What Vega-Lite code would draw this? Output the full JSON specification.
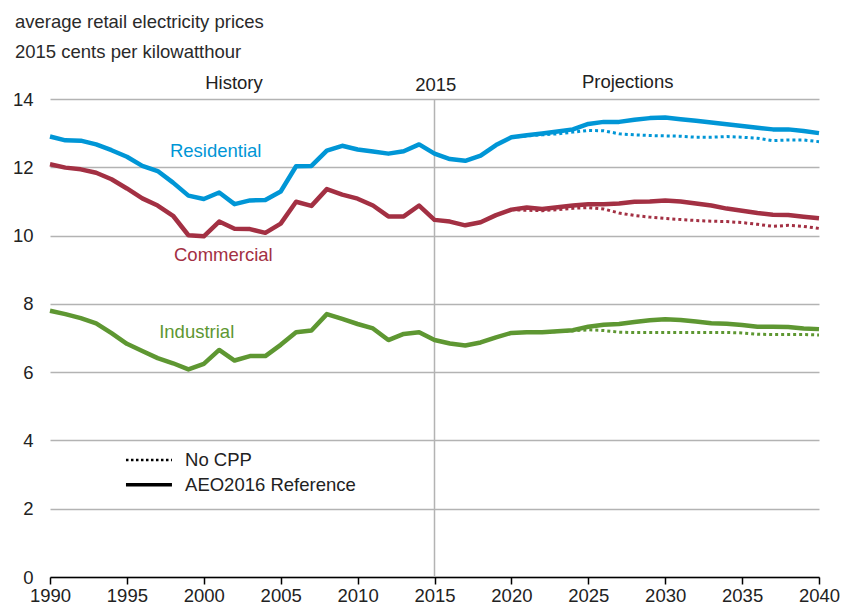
{
  "$schema": "https://vega.github.io/schema/vega-lite/v6.json",
  "width": 769,
  "height": 478,
  "autosize": "none",
  "padding": {"left": 50, "top": 99, "right": 23, "bottom": 36},
  "background": "white",
  "config": {
    "font": "Liberation Sans",
    "view": {"stroke": null}
  },
  "title": {
    "text": ["average retail electricity prices", "2015 cents per kilowatthour"],
    "anchor": "start",
    "frame": "group",
    "fontSize": 18.5,
    "fontWeight": "normal",
    "color": "#2a2a2a",
    "lineHeight": 30,
    "baseline": "bottom",
    "offset": -8,
    "dx": -35
  },
  "datasets": {
    "ref": [
      {"scenario":"AEO2016 Reference","year":1990,"Residential":12.90,"Commercial":12.09,"Industrial":7.80},
      {"scenario":"AEO2016 Reference","year":1991,"Residential":12.79,"Commercial":11.99,"Industrial":7.70},
      {"scenario":"AEO2016 Reference","year":1992,"Residential":12.78,"Commercial":11.94,"Industrial":7.58},
      {"scenario":"AEO2016 Reference","year":1993,"Residential":12.67,"Commercial":11.84,"Industrial":7.43},
      {"scenario":"AEO2016 Reference","year":1994,"Residential":12.50,"Commercial":11.65,"Industrial":7.14},
      {"scenario":"AEO2016 Reference","year":1995,"Residential":12.31,"Commercial":11.38,"Industrial":6.83},
      {"scenario":"AEO2016 Reference","year":1996,"Residential":12.04,"Commercial":11.09,"Industrial":6.62},
      {"scenario":"AEO2016 Reference","year":1997,"Residential":11.89,"Commercial":10.88,"Industrial":6.41},
      {"scenario":"AEO2016 Reference","year":1998,"Residential":11.55,"Commercial":10.58,"Industrial":6.26},
      {"scenario":"AEO2016 Reference","year":1999,"Residential":11.17,"Commercial":10.01,"Industrial":6.08},
      {"scenario":"AEO2016 Reference","year":2000,"Residential":11.07,"Commercial":9.98,"Industrial":6.24},
      {"scenario":"AEO2016 Reference","year":2001,"Residential":11.26,"Commercial":10.41,"Industrial":6.65},
      {"scenario":"AEO2016 Reference","year":2002,"Residential":10.92,"Commercial":10.20,"Industrial":6.34},
      {"scenario":"AEO2016 Reference","year":2003,"Residential":11.03,"Commercial":10.19,"Industrial":6.47},
      {"scenario":"AEO2016 Reference","year":2004,"Residential":11.04,"Commercial":10.08,"Industrial":6.47},
      {"scenario":"AEO2016 Reference","year":2005,"Residential":11.29,"Commercial":10.35,"Industrial":6.80},
      {"scenario":"AEO2016 Reference","year":2006,"Residential":12.03,"Commercial":10.99,"Industrial":7.17},
      {"scenario":"AEO2016 Reference","year":2007,"Residential":12.04,"Commercial":10.87,"Industrial":7.22},
      {"scenario":"AEO2016 Reference","year":2008,"Residential":12.49,"Commercial":11.36,"Industrial":7.70},
      {"scenario":"AEO2016 Reference","year":2009,"Residential":12.63,"Commercial":11.20,"Industrial":7.56},
      {"scenario":"AEO2016 Reference","year":2010,"Residential":12.52,"Commercial":11.08,"Industrial":7.41},
      {"scenario":"AEO2016 Reference","year":2011,"Residential":12.46,"Commercial":10.88,"Industrial":7.28},
      {"scenario":"AEO2016 Reference","year":2012,"Residential":12.40,"Commercial":10.56,"Industrial":6.94},
      {"scenario":"AEO2016 Reference","year":2013,"Residential":12.47,"Commercial":10.56,"Industrial":7.12},
      {"scenario":"AEO2016 Reference","year":2014,"Residential":12.67,"Commercial":10.88,"Industrial":7.17},
      {"scenario":"AEO2016 Reference","year":2015,"Residential":12.40,"Commercial":10.46,"Industrial":6.94},
      {"scenario":"AEO2016 Reference","year":2016,"Residential":12.24,"Commercial":10.41,"Industrial":6.84},
      {"scenario":"AEO2016 Reference","year":2017,"Residential":12.19,"Commercial":10.30,"Industrial":6.78},
      {"scenario":"AEO2016 Reference","year":2018,"Residential":12.34,"Commercial":10.39,"Industrial":6.87},
      {"scenario":"AEO2016 Reference","year":2019,"Residential":12.65,"Commercial":10.60,"Industrial":7.02},
      {"scenario":"AEO2016 Reference","year":2020,"Residential":12.88,"Commercial":10.76,"Industrial":7.15},
      {"scenario":"AEO2016 Reference","year":2021,"Residential":12.94,"Commercial":10.82,"Industrial":7.17},
      {"scenario":"AEO2016 Reference","year":2022,"Residential":12.99,"Commercial":10.78,"Industrial":7.17},
      {"scenario":"AEO2016 Reference","year":2023,"Residential":13.05,"Commercial":10.83,"Industrial":7.20},
      {"scenario":"AEO2016 Reference","year":2024,"Residential":13.11,"Commercial":10.88,"Industrial":7.23},
      {"scenario":"AEO2016 Reference","year":2025,"Residential":13.27,"Commercial":10.92,"Industrial":7.33},
      {"scenario":"AEO2016 Reference","year":2026,"Residential":13.33,"Commercial":10.92,"Industrial":7.39},
      {"scenario":"AEO2016 Reference","year":2027,"Residential":13.33,"Commercial":10.94,"Industrial":7.41},
      {"scenario":"AEO2016 Reference","year":2028,"Residential":13.39,"Commercial":10.99,"Industrial":7.47},
      {"scenario":"AEO2016 Reference","year":2029,"Residential":13.44,"Commercial":11.00,"Industrial":7.52},
      {"scenario":"AEO2016 Reference","year":2030,"Residential":13.46,"Commercial":11.03,"Industrial":7.55},
      {"scenario":"AEO2016 Reference","year":2031,"Residential":13.41,"Commercial":11.00,"Industrial":7.53},
      {"scenario":"AEO2016 Reference","year":2032,"Residential":13.36,"Commercial":10.94,"Industrial":7.48},
      {"scenario":"AEO2016 Reference","year":2033,"Residential":13.31,"Commercial":10.88,"Industrial":7.43},
      {"scenario":"AEO2016 Reference","year":2034,"Residential":13.26,"Commercial":10.79,"Industrial":7.42},
      {"scenario":"AEO2016 Reference","year":2035,"Residential":13.21,"Commercial":10.73,"Industrial":7.38},
      {"scenario":"AEO2016 Reference","year":2036,"Residential":13.16,"Commercial":10.66,"Industrial":7.33},
      {"scenario":"AEO2016 Reference","year":2037,"Residential":13.11,"Commercial":10.61,"Industrial":7.33},
      {"scenario":"AEO2016 Reference","year":2038,"Residential":13.11,"Commercial":10.60,"Industrial":7.32},
      {"scenario":"AEO2016 Reference","year":2039,"Residential":13.06,"Commercial":10.55,"Industrial":7.28},
      {"scenario":"AEO2016 Reference","year":2040,"Residential":13.00,"Commercial":10.51,"Industrial":7.26}
    ],
    "nocpp": [
      {"scenario":"No CPP","year":2020,"Residential":12.88,"Commercial":10.76,"Industrial":7.15},
      {"scenario":"No CPP","year":2021,"Residential":12.92,"Commercial":10.74,"Industrial":7.17},
      {"scenario":"No CPP","year":2022,"Residential":12.95,"Commercial":10.73,"Industrial":7.17},
      {"scenario":"No CPP","year":2023,"Residential":12.98,"Commercial":10.76,"Industrial":7.19},
      {"scenario":"No CPP","year":2024,"Residential":13.03,"Commercial":10.80,"Industrial":7.21},
      {"scenario":"No CPP","year":2025,"Residential":13.08,"Commercial":10.82,"Industrial":7.24},
      {"scenario":"No CPP","year":2026,"Residential":13.07,"Commercial":10.78,"Industrial":7.22},
      {"scenario":"No CPP","year":2027,"Residential":12.98,"Commercial":10.66,"Industrial":7.17},
      {"scenario":"No CPP","year":2028,"Residential":12.95,"Commercial":10.59,"Industrial":7.16},
      {"scenario":"No CPP","year":2029,"Residential":12.93,"Commercial":10.54,"Industrial":7.16},
      {"scenario":"No CPP","year":2030,"Residential":12.92,"Commercial":10.50,"Industrial":7.16},
      {"scenario":"No CPP","year":2031,"Residential":12.91,"Commercial":10.47,"Industrial":7.16},
      {"scenario":"No CPP","year":2032,"Residential":12.88,"Commercial":10.44,"Industrial":7.16},
      {"scenario":"No CPP","year":2033,"Residential":12.88,"Commercial":10.42,"Industrial":7.16},
      {"scenario":"No CPP","year":2034,"Residential":12.90,"Commercial":10.41,"Industrial":7.16},
      {"scenario":"No CPP","year":2035,"Residential":12.88,"Commercial":10.38,"Industrial":7.15},
      {"scenario":"No CPP","year":2036,"Residential":12.85,"Commercial":10.33,"Industrial":7.11},
      {"scenario":"No CPP","year":2037,"Residential":12.78,"Commercial":10.27,"Industrial":7.10},
      {"scenario":"No CPP","year":2038,"Residential":12.80,"Commercial":10.30,"Industrial":7.10},
      {"scenario":"No CPP","year":2039,"Residential":12.80,"Commercial":10.27,"Industrial":7.10},
      {"scenario":"No CPP","year":2040,"Residential":12.75,"Commercial":10.21,"Industrial":7.09}
    ]
  },
  "encoding": {
    "x": {
      "type": "quantitative",
      "scale": {"domain": [1990, 2040], "nice": false, "zero": false},
      "axis": {
        "title": null,
        "values": [1990, 1995, 2000, 2005, 2010, 2015, 2020, 2025, 2030, 2035, 2040],
        "format": "d",
        "grid": false,
        "labelFlush": false,
        "labelOverlap": false,
        "domainColor": "#000000",
        "domainWidth": 1.5,
        "tickColor": "#000000",
        "tickWidth": 1.5,
        "tickSize": 7,
        "labelFontSize": 18.5,
        "labelColor": "#222222",
        "labelPadding": 2,
        "labelFont": "Liberation Sans"
      }
    },
    "y": {
      "type": "quantitative",
      "scale": {"domain": [0, 14], "nice": false, "zero": true},
      "axis": {
        "title": null,
        "values": [0, 2, 4, 6, 8, 10, 12, 14],
        "grid": true,
        "gridColor": "#b3b3b3",
        "gridWidth": 1.3,
        "domain": false,
        "ticks": false,
        "labelPadding": 17,
        "labelFontSize": 18.5,
        "labelColor": "#222222",
        "labelFont": "Liberation Sans"
      }
    }
  },
  "layer": [
    {
      "data": {"values": [{"year": 2015}]},
      "mark": {"type": "rule", "color": "#b3b3b3", "strokeWidth": 1.5},
      "encoding": {
        "x": {"field": "year", "type": "quantitative"},
        "y": {"datum": 0, "type": "quantitative"},
        "y2": {"datum": 14}
      }
    },
    {
      "data": {"name": "nocpp"},
      "transform": [{"fold": ["Residential", "Commercial", "Industrial"], "as": ["sector", "price"]}],
      "mark": {"type": "line", "strokeWidth": 3, "strokeCap": "butt", "strokeDash": [3, 3]},
      "encoding": {
        "x": {"field": "year", "type": "quantitative"},
        "y": {"field": "price", "type": "quantitative"},
        "detail": {"field": "sector"},
        "color": {
          "field": "sector",
          "type": "nominal",
          "scale": {"domain": ["Residential", "Commercial", "Industrial"], "range": ["#0096d6", "#a33043", "#5e9732"]},
          "legend": null
        }
      }
    },
    {
      "data": {"name": "ref"},
      "transform": [{"fold": ["Residential", "Commercial", "Industrial"], "as": ["sector", "price"]}],
      "mark": {"type": "line", "strokeWidth": 4.5, "strokeJoin": "round"},
      "encoding": {
        "x": {"field": "year", "type": "quantitative"},
        "y": {"field": "price", "type": "quantitative"},
        "detail": {"field": "sector"},
        "color": {"field": "sector", "type": "nominal", "legend": null}
      }
    },
    {
      "data": {"values": [{"scenario": "No CPP"}]},
      "mark": {"type": "rule", "color": "#000000", "strokeWidth": 2.5, "strokeDash": [2.5, 2.5]},
      "encoding": {
        "x": {"datum": 1994.94, "type": "quantitative"},
        "x2": {"datum": 1997.93},
        "y": {"datum": 3.43, "type": "quantitative"}
      }
    },
    {
      "data": {"values": [{"scenario": "AEO2016 Reference"}]},
      "mark": {"type": "rule", "color": "#000000", "strokeWidth": 3.5},
      "encoding": {
        "x": {"datum": 1994.94, "type": "quantitative"},
        "x2": {"datum": 1997.93},
        "y": {"datum": 2.70, "type": "quantitative"}
      }
    },
    {
      "data": {"values": [{"label": "No CPP"}]},
      "mark": {"type": "text", "color": "#222222", "align": "left", "baseline": "middle", "fontSize": 18.5, "font": "Liberation Sans"},
      "encoding": {"text": {"field": "label"}, "x": {"datum": 1998.78, "type": "quantitative"}, "y": {"datum": 3.43, "type": "quantitative"}}
    },
    {
      "data": {"values": [{"label": "AEO2016 Reference"}]},
      "mark": {"type": "text", "color": "#222222", "align": "left", "baseline": "middle", "fontSize": 18.5, "font": "Liberation Sans"},
      "encoding": {"text": {"field": "label"}, "x": {"datum": 1998.78, "type": "quantitative"}, "y": {"datum": 2.70, "type": "quantitative"}}
    },
    {
      "data": {"values": [{"label": "Residential"}]},
      "mark": {"type": "text", "color": "#0096d6", "align": "center", "baseline": "middle", "fontSize": 18.5, "font": "Liberation Sans"},
      "encoding": {"text": {"field": "label"}, "x": {"datum": 2000.77, "type": "quantitative"}, "y": {"datum": 12.49, "type": "quantitative"}}
    },
    {
      "data": {"values": [{"label": "Commercial"}]},
      "mark": {"type": "text", "color": "#a33043", "align": "center", "baseline": "middle", "fontSize": 18.5, "font": "Liberation Sans"},
      "encoding": {"text": {"field": "label"}, "x": {"datum": 2001.27, "type": "quantitative"}, "y": {"datum": 9.43, "type": "quantitative"}}
    },
    {
      "data": {"values": [{"label": "Industrial"}]},
      "mark": {"type": "text", "color": "#5e9732", "align": "center", "baseline": "middle", "fontSize": 18.5, "font": "Liberation Sans"},
      "encoding": {"text": {"field": "label"}, "x": {"datum": 1999.54, "type": "quantitative"}, "y": {"datum": 7.19, "type": "quantitative"}}
    },
    {
      "data": {"values": [{"label": "History"}]},
      "mark": {"type": "text", "color": "#222222", "align": "center", "baseline": "middle", "fontSize": 18.5, "font": "Liberation Sans"},
      "encoding": {"text": {"field": "label"}, "x": {"datum": 2001.96, "type": "quantitative"}, "y": {"datum": 14.47, "type": "quantitative"}}
    },
    {
      "data": {"values": [{"label": "2015"}]},
      "mark": {"type": "text", "color": "#222222", "align": "center", "baseline": "middle", "fontSize": 18.5, "font": "Liberation Sans"},
      "encoding": {"text": {"field": "label"}, "x": {"datum": 2015.08, "type": "quantitative"}, "y": {"datum": 14.41, "type": "quantitative"}}
    },
    {
      "data": {"values": [{"label": "Projections"}]},
      "mark": {"type": "text", "color": "#222222", "align": "center", "baseline": "middle", "fontSize": 18.5, "font": "Liberation Sans"},
      "encoding": {"text": {"field": "label"}, "x": {"datum": 2027.56, "type": "quantitative"}, "y": {"datum": 14.51, "type": "quantitative"}}
    }
  ]
}
